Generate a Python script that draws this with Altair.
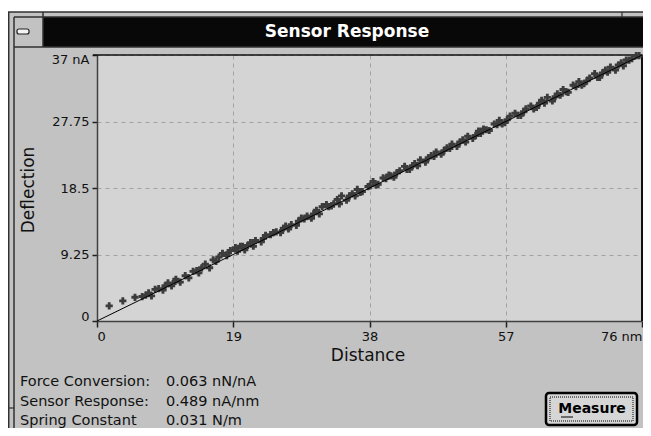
import altair as alt
import pandas as pd

# ---- data ----
x_vals = [1.7, 3.6, 5.3, 6.3, 6.8, 7.2, 7.6, 8.1, 8.6, 9.2, 9.5, 9.9, 10.4, 10.9, 11.0, 11.6,
          12.3, 12.8, 13.4, 13.9, 14.2, 14.6, 15.1, 15.7, 16.2, 16.6, 17.0, 17.5, 18.1, 18.3,
          18.6, 19.3, 19.6, 20.0, 20.3, 20.6, 21.0, 21.4, 21.8, 22.1, 22.9, 23.2, 23.5, 24.2,
          24.6, 25.0, 25.6, 26.0, 26.3, 26.7, 27.1, 27.8, 28.1, 28.5, 28.9, 29.3, 29.9, 30.2,
          30.6, 31.0, 31.4, 32.0, 32.3, 32.7, 33.0, 33.5, 33.8, 34.1, 34.8, 35.2, 35.6, 36.0,
          36.3, 36.7, 37.0, 37.8, 38.1, 38.5, 38.9, 39.2, 39.9, 40.3, 40.7, 41.0, 41.4, 41.8,
          42.2, 42.9, 43.2, 43.6, 44.0, 44.3, 44.7, 45.1, 45.8, 46.2, 46.6, 47.0, 47.3, 48.0,
          48.4, 48.8, 49.2, 49.5, 50.2, 50.6, 51.0, 51.4, 51.7, 52.4, 52.8, 53.2, 53.5, 53.9,
          54.3, 54.7, 55.4, 55.8, 56.1, 56.5, 56.9, 57.2, 57.6, 58.3, 58.7, 59.1, 59.5, 59.8,
          60.5, 60.9, 61.3, 61.7, 62.0, 62.4, 62.8, 63.5, 63.9, 64.2, 64.6, 65.0, 65.4, 65.7,
          66.4, 66.8, 67.2, 67.6, 67.9, 68.3, 68.7, 69.4, 69.8, 70.1, 70.5, 70.9, 71.2, 71.6,
          72.3, 72.7, 73.1, 73.4, 73.8, 74.2, 74.6, 75.2, 75.6]
y_vals = [2.1, 2.8, 3.3, 3.4, 3.6, 3.9, 3.5, 4.4, 4.5, 4.3, 4.9, 5.3, 4.9, 5.5, 5.8, 5.4,
          6.3, 6.0, 6.9, 7.0, 6.7, 7.4, 7.9, 7.4, 8.5, 8.3, 8.9, 9.4, 9.1, 9.5,
          9.8, 10.2, 9.7, 10.4, 10.4, 9.9, 10.5, 10.9, 10.4, 11.2, 11.0, 11.5, 11.9, 12.0,
          12.3, 12.4, 12.3, 12.9, 13.2, 12.8, 13.4, 13.3, 13.9, 14.3, 14.2, 14.6, 14.3, 14.9,
          15.4, 14.9, 15.9, 16.2, 15.9, 16.0, 16.3, 16.9, 16.3, 17.4, 16.8, 17.4, 17.7, 17.4,
          18.3, 17.9, 18.0, 18.7, 18.8, 19.4, 18.9, 19.0, 19.9, 19.8, 20.3, 20.2, 20.0, 20.6,
          20.9, 21.5, 21.1, 21.1, 21.6, 21.9, 21.6, 22.4, 22.1, 22.7, 23.0, 22.9, 23.5, 23.2,
          23.7, 24.1, 24.0, 24.6, 24.3, 24.9, 25.2, 24.9, 25.7, 25.4, 25.8, 26.4, 26.1, 26.7,
          26.6, 26.5, 27.4, 27.3, 27.9, 27.4, 27.6, 28.0, 28.5, 28.9, 28.6, 28.6, 29.1, 29.5,
          29.9, 29.5, 29.7, 30.3, 30.7, 30.3, 31.1, 30.6, 31.2, 31.6, 31.4, 32.2, 31.9, 31.8,
          32.8, 32.6, 33.3, 32.8, 33.0, 33.4, 33.8, 34.4, 33.9, 33.9, 34.5, 34.9, 34.6, 35.3,
          34.9, 35.6, 35.9, 35.5, 36.3, 36.3, 36.5, 36.9, 36.9]
fit_x = [0, 76]
fit_y = [0, 37]
x_ticks = [0, 19, 38, 57, 76]
y_ticks = [0, 9.25, 18.5, 27.75, 37]
window_title = "Sensor Response"
x_title = "Distance"
y_title = "Deflection"
info_labels = ["Force Conversion:", "Sensor Response:", "Spring Constant"]
info_values = ["0.063 nN/nA", "0.489 nA/nm", "0.031 N/m"]
button_label = "Measure"

W, H = 545, 266
FONT = "DejaVu Sans"
one = pd.DataFrame({"a": [0]})


def rect(x1, y1, x2, y2, **kw):
    return alt.Chart(one).mark_rect(**kw).encode(
        x=alt.value(x1), x2=alt.value(x2), y=alt.value(y1), y2=alt.value(y2))


def hline(x1, x2, y, color="#303030", w=1.0):
    return alt.Chart(one).mark_rule(color=color, strokeWidth=w).encode(
        x=alt.value(x1), x2=alt.value(x2), y=alt.value(y))


def vline(x, y1, y2, color="#303030", w=1.0):
    return alt.Chart(one).mark_rule(color=color, strokeWidth=w).encode(
        x=alt.value(x), y=alt.value(y1), y2=alt.value(y2))


def text(s, x, y, **kw):
    return alt.Chart(one).mark_text(text=s, font=FONT, **kw).encode(
        x=alt.value(x), y=alt.value(y))


pts = pd.DataFrame({"x": x_vals, "y": y_vals})
fit = pd.DataFrame({"x": fit_x, "y": fit_y})

xscale = alt.Scale(domain=[0, 76], nice=False, zero=False)
yscale = alt.Scale(domain=[0, 37], nice=False, zero=False)

xaxis = alt.Axis(values=x_ticks, title=None, grid=True, gridDash=[4, 4], gridColor="#a2a2a2",
                 tickSize=6, tickColor="#202020", tickWidth=1.5, domainColor="#404040",
                 domainWidth=1.5, labelFlush=True, labelFontSize=13, labelPadding=3,
                 labelColor="#111111", labelFont=FONT, format=".4~g",
                 labelExpr="datum.value == 76 ? '76 nm' : datum.label")
yaxis = alt.Axis(values=y_ticks, title=None, grid=True, gridDash=[4, 4], gridColor="#a2a2a2",
                 tickSize=5, tickColor="#202020", tickWidth=1.5, domainColor="#404040",
                 domainWidth=1.5, labelFlush=True, labelFlushOffset=2, labelFontSize=13,
                 labelPadding=3, labelColor="#111111", labelFont=FONT, format=".4~g",
                 labelExpr="datum.value == 37 ? '37 nA' : datum.label")

points = alt.Chart(pts).mark_point(shape="cross", filled=True, size=52, color="#3c3c3c",
                                   opacity=1).encode(
    x=alt.X("x:Q", scale=xscale, axis=xaxis),
    y=alt.Y("y:Q", scale=yscale, axis=yaxis))

line = alt.Chart(fit).mark_line(color="#000000", strokeWidth=1).encode(
    x=alt.X("x:Q", scale=xscale), y=alt.Y("y:Q", scale=yscale))

layers = [
    # white page strip above the window
    rect(-89, -47, 546, -43, color="#ffffff"),
    # window borders
    hline(-89, 546, -43, w=1.5),
    vline(-88.3, -43, 373, w=1.5),
    vline(-83, -38, 373, w=1.5),
    # title bar
    rect(-54, -38, 546, -8, color="#080808"),
    hline(-83, 546, -38, w=1.5),
    hline(-83, 546, -8, w=1.5),
    vline(-54, -43, -8, w=1.5),
    vline(525, -43, -38, w=1.2),
    hline(-89, -83, 353, w=1.2),
    rect(-80, -26, -68, -21, color="#f4f4f4", stroke="#202020", strokeWidth=1.2, cornerRadius=2),
    text(window_title, 250, -23, fontSize=17, fontWeight="bold", color="#ffffff",
         align="center", baseline="middle"),
    # plot frame (top/right)
    hline(-4, W, 0, color="#101010", w=1.5),
    vline(W, 0, H, color="#101010", w=2),
    points,
    line,
    # axis titles
    text(y_title, -68, 135, fontSize=17, angle=270, color="#111111",
         align="center", baseline="middle"),
    text(x_title, 271, 301, fontSize=17, color="#111111", align="center", baseline="middle"),
]

info_y = [327, 347, 366]
for lab, val, yy in zip(info_labels, info_values, info_y):
    layers.append(text(lab, -77, yy, fontSize=14.5, color="#111111", align="left",
                       baseline="middle"))
    layers.append(text(val, 69, yy, fontSize=14.5, color="#111111", align="left",
                       baseline="middle"))

# Measure button
layers += [
    rect(449, 338, 540, 370, color="#d6d6d6", stroke="#000000", strokeWidth=2.5, cornerRadius=3),
    rect(453, 342, 536, 366, fill="#d6d6d6", stroke="#000000", strokeWidth=1,
         strokeDash=[1, 1]),
    text(button_label, 495, 354, fontSize=14, fontWeight="bold", color="#000000",
         align="center", baseline="middle"),
    hline(464, 476, 362, color="#000000", w=1),
]

chart = alt.layer(*layers).properties(
    width=W, height=H,
    padding={"left": 89, "top": 47, "right": 1, "bottom": 107},
    autosize=alt.AutoSizeParams(type="none"),
    background="#c2c2c2",
).configure_view(fill="#d4d4d4", strokeWidth=0)

chart.save("out.html", embed_options={"renderer": "svg", "actions": False})
